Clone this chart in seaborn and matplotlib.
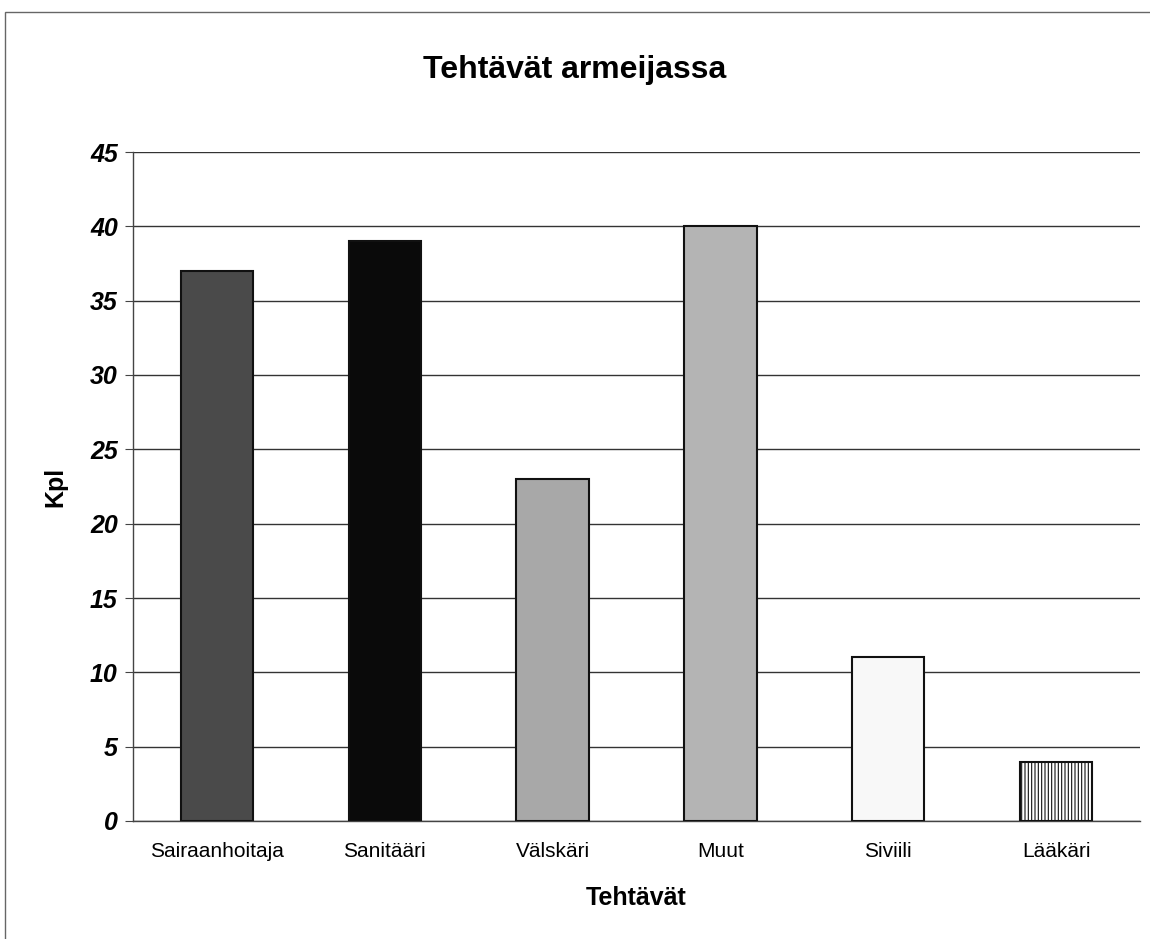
import matplotlib
matplotlib.use("Agg")
import matplotlib.pyplot as plt
import seaborn as sns
import pandas as pd
from matplotlib.patches import Rectangle

categories = ["Sairaanhoitaja", "Sanitääri", "Välskäri", "Muut", "Siviili", "Lääkäri"]
values = [37, 39, 23, 40, 11, 4]
colors = ["#4a4a4a", "#0a0a0a", "#a8a8a8", "#b4b4b4", "#f8f8f8", "#ffffff"]
yticks = list(range(0, 50, 5))

sns.set_style("white")
plt.rcParams['font.family'] = ['Liberation Sans', 'DejaVu Sans']
plt.rcParams['text.color'] = 'black'
plt.rcParams['axes.labelcolor'] = 'black'
plt.rcParams['xtick.color'] = 'black'
plt.rcParams['ytick.color'] = 'black'
plt.rcParams['hatch.color'] = '#333333'
plt.rcParams['hatch.linewidth'] = 0.8

df = pd.DataFrame({"Tehtävät": categories, "Kpl": values})

fig = plt.figure(figsize=(11.5, 9.39), dpi=100)
ax = fig.add_axes([133/1150, 1-821/939, (1140-133)/1150, (821-152)/939])

sns.barplot(data=df, x="Tehtävät", y="Kpl", hue="Tehtävät", palette=colors,
            order=categories, hue_order=categories, width=0.43, legend=False,
            edgecolor="#111111", linewidth=1.5, ax=ax, zorder=3)

bars = ax.patches
bars[-1].set_hatch("|||||")
bars[-1].set_facecolor("#ffffff")

ax.set_ylim(0, 45)
ax.set_xlim(-0.5, len(categories) - 0.5)
ax.set_yticks(yticks)
ax.set_yticklabels([str(t) for t in yticks], fontsize=18, fontweight="bold", fontstyle="italic")
ax.yaxis.grid(True, color="#333333", linewidth=1.0, zorder=0)
ax.set_axisbelow(True)

ax.set_xticks(range(len(categories)))
ax.set_xticklabels(categories, fontsize=15)
ax.tick_params(axis="x", length=0, pad=15)
ax.set_xticks([i - 0.5 for i in range(len(categories) + 1)], minor=True)
ax.tick_params(axis="x", which="minor", length=5, color="#444444", direction="out")
ax.tick_params(axis="y", length=6, color="#444444", direction="out", left=True, pad=5)

for s in ["top", "right"]:
    ax.spines[s].set_visible(False)
for s in ["left", "bottom"]:
    ax.spines[s].set_color("#444444")
    ax.spines[s].set_linewidth(1.0)

ax.set_xlabel("Tehtävät", fontsize=18, fontweight="bold", labelpad=18)
ax.set_ylabel("Kpl", fontsize=18, fontweight="bold", labelpad=16)

fig.text(0.5, 1-70/939, "Tehtävät armeijassa", ha="center", va="center",
         fontsize=23, fontweight="bold")

fig.patches.append(Rectangle((5/1150, -0.01), 1.2, 1-12/939 + 0.01, transform=fig.transFigure,
                             fill=False, edgecolor="#666666", linewidth=1.0))

fig.savefig("out.png", dpi=100)
